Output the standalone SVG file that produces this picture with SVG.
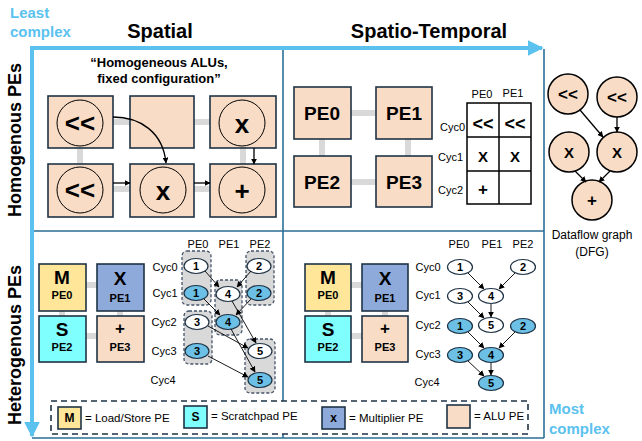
<svg xmlns="http://www.w3.org/2000/svg" width="642" height="441" viewBox="0 0 642 441">
<defs>
<style>
text{font-family:"Liberation Sans",Arial,sans-serif;fill:#000}
.b{font-weight:bold}
.lb{fill:#5bc2ef;font-weight:bold;font-size:15px}
.frame{stroke:#2b6e96;stroke-width:1.6;fill:none}
.tile{fill:#f8dcc6;stroke:#1e3345;stroke-width:1.6}
.gray{stroke:#d9d9d9;stroke-width:6;fill:none}
.circ{fill:none;stroke:#000;stroke-width:1}
.dfg{fill:#f8dcc6;stroke:#000;stroke-width:1.5}
.arr{stroke:#000;stroke-width:1.3;fill:none;marker-end:url(#ah)}
.arr2{stroke:#000;stroke-width:0.9;fill:none;marker-end:url(#ah2)}
.grp{fill:#d9d9d9;stroke:#44546a;stroke-width:1.3;stroke-dasharray:3 2}
.nw{fill:#fff;stroke:#1e3345;stroke-width:1.2}
.nb{fill:#6cc0e6;stroke:#1e3345;stroke-width:1.2}
.nl{font-size:11px;font-weight:bold;text-anchor:middle}
.hd{font-size:11px;text-anchor:middle}
.M{fill:#ffe699;stroke:#1e3345;stroke-width:1.6}
.X{fill:#8eaadb;stroke:#1e3345;stroke-width:1.6}
.S{fill:#80ffff;stroke:#1e3345;stroke-width:1.6}
.A{fill:#f8dcc6;stroke:#1e3345;stroke-width:1.6}
.cell{fill:none;stroke:#000;stroke-width:1.5}
</style>
<marker id="ah" viewBox="0 0 10 10" refX="9" refY="5" markerWidth="6" markerHeight="6" orient="auto" markerUnits="userSpaceOnUse"><path d="M0,0 L10,5 L0,10 z" fill="#000"/></marker>
<marker id="ah2" viewBox="0 0 10 10" refX="9" refY="5" markerWidth="6" markerHeight="6" orient="auto" markerUnits="userSpaceOnUse"><path d="M0,0 L10,5 L0,10 z" fill="#000"/></marker>
<marker id="big" viewBox="0 0 10 10" refX="9" refY="5" markerWidth="16" markerHeight="16" orient="auto" markerUnits="userSpaceOnUse"><path d="M0,0 L10,5 L0,10 z" fill="#5bc2ef"/></marker>
</defs>

<!-- frame -->
<g id="frame">
<line class="frame" x1="544" y1="49" x2="544" y2="438"/>
<line class="frame" x1="32" y1="438" x2="544" y2="438"/>
<line class="frame" x1="283" y1="49" x2="283" y2="438"/>
<line class="frame" x1="32" y1="231" x2="544" y2="231"/>
<line x1="30" y1="48" x2="542" y2="48" stroke="#5bc2ef" stroke-width="4" marker-end="url(#big)"/>
<line x1="32" y1="46" x2="32" y2="436" stroke="#5bc2ef" stroke-width="4" marker-end="url(#big)"/>
</g>

<g id="titles">
<text class="lb" x="10" y="18">Least</text>
<text class="lb" x="10" y="37">complex</text>
<text class="lb" x="549" y="414">Most</text>
<text class="lb" x="549" y="434">complex</text>
<text class="b" x="160" y="38" font-size="20" text-anchor="middle">Spatial</text>
<text class="b" x="429" y="38" font-size="20" text-anchor="middle">Spatio-Temporal</text>
<text class="b" font-size="18" text-anchor="middle" transform="translate(21,140) rotate(-90)">Homogenous PEs</text>
<text class="b" font-size="18" text-anchor="middle" transform="translate(21,345) rotate(-90)">Heterogenous PEs</text>
</g>

<!-- Top-left: spatial homogeneous -->
<g id="q1">
<text class="b" x="159" y="67" font-size="13" text-anchor="middle">“Homogeneous ALUs,</text>
<text class="b" x="159" y="83" font-size="13" text-anchor="middle">fixed configuration”</text>
<g id="q1-grid">
<line class="gray" x1="113" y1="122" x2="130" y2="122"/>
<line class="gray" x1="194" y1="122" x2="210" y2="122"/>
<line class="gray" x1="113" y1="189" x2="130" y2="189"/>
<line class="gray" x1="194" y1="189" x2="210" y2="189"/>
<line class="gray" x1="80" y1="148" x2="80" y2="164"/>
<line class="gray" x1="243" y1="148" x2="243" y2="164"/>
</g>
<g id="t1"><rect class="tile" x="48" y="96" width="65" height="52"/><circle class="circ" cx="80" cy="123" r="23"/><text class="b" x="80" y="132" font-size="26" text-anchor="middle">&lt;&lt;</text></g>
<g id="t2"><rect class="tile" x="130" y="96" width="64" height="52"/></g>
<g id="t3"><rect class="tile" x="210" y="96" width="66" height="52"/><circle class="circ" cx="242" cy="123" r="23"/><text class="b" x="242" y="133" font-size="26" text-anchor="middle">x</text></g>
<g id="t4"><rect class="tile" x="48" y="164" width="65" height="53"/><circle class="circ" cx="80" cy="190" r="23"/><text class="b" x="80" y="199" font-size="26" text-anchor="middle">&lt;&lt;</text></g>
<g id="t5"><rect class="tile" x="130" y="164" width="64" height="53"/><circle class="circ" cx="163" cy="190" r="23"/><text class="b" x="163" y="200" font-size="26" text-anchor="middle">x</text></g>
<g id="t6"><rect class="tile" x="210" y="164" width="66" height="53"/><circle class="circ" cx="242" cy="190" r="23"/><text class="b" x="242" y="200" font-size="26" text-anchor="middle">+</text></g>
<g id="q1-conn">
<path class="arr" d="M113 117 C140 117 163 132 166 163"/>
<line class="arr" x1="113" y1="183" x2="130" y2="183"/>
<line class="arr" x1="194" y1="183" x2="210" y2="183"/>
<line class="arr" x1="254" y1="148" x2="254" y2="164"/>
</g>
</g>

<!-- Top-right: spatio-temporal homogeneous -->
<g id="q2">
<g id="q2-grid">
<line class="gray" x1="351" y1="113" x2="376" y2="113"/>
<line class="gray" x1="351" y1="182" x2="376" y2="182"/>
<line class="gray" x1="322" y1="139" x2="322" y2="156"/>
<line class="gray" x1="408" y1="139" x2="408" y2="156"/>
</g>
<g id="pe0"><rect class="tile" x="294" y="87" width="57" height="52"/><text class="b" x="322" y="120" font-size="19" text-anchor="middle">PE0</text></g>
<g id="pe1"><rect class="tile" x="376" y="87" width="56" height="52"/><text class="b" x="404" y="120" font-size="19" text-anchor="middle">PE1</text></g>
<g id="pe2"><rect class="tile" x="294" y="156" width="57" height="51"/><text class="b" x="322" y="189" font-size="19" text-anchor="middle">PE2</text></g>
<g id="pe3"><rect class="tile" x="376" y="156" width="56" height="51"/><text class="b" x="404" y="189" font-size="19" text-anchor="middle">PE3</text></g>
<g id="table">
<text class="hd" x="482" y="98">PE0</text>
<text class="hd" x="513" y="97">PE1</text>
<rect class="cell" x="467" y="103" width="64" height="101"/>
<line class="cell" x1="499" y1="103" x2="499" y2="204"/>
<line class="cell" x1="467" y1="137" x2="531" y2="137"/>
<line class="cell" x1="467" y1="171" x2="531" y2="171"/>
<text x="465" y="131" font-size="11" text-anchor="end">Cyc0</text>
<text x="463" y="161" font-size="11" text-anchor="end">Cyc1</text>
<text x="463" y="194" font-size="11" text-anchor="end">Cyc2</text>
<text class="b" x="483" y="130" font-size="18" text-anchor="middle">&lt;&lt;</text>
<text class="b" x="515" y="130" font-size="18" text-anchor="middle">&lt;&lt;</text>
<text class="b" x="483" y="162" font-size="15" text-anchor="middle">X</text>
<text class="b" x="515" y="162" font-size="15" text-anchor="middle">X</text>
<text class="b" x="483" y="195" font-size="17" text-anchor="middle">+</text>
</g>
</g>

<!-- DFG right -->
<g id="dfg">
<g id="d1"><circle class="dfg" cx="568" cy="94" r="20"/><text class="b" x="568" y="100" font-size="17" text-anchor="middle">&lt;&lt;</text></g>
<g id="d2"><circle class="dfg" cx="617" cy="97" r="20"/><text class="b" x="617" y="103" font-size="17" text-anchor="middle">&lt;&lt;</text></g>
<g id="d3"><circle class="dfg" cx="569" cy="152" r="20"/><text class="b" x="569" y="158" font-size="15" text-anchor="middle">X</text></g>
<g id="d4"><circle class="dfg" cx="617" cy="152" r="20"/><text class="b" x="617" y="158" font-size="15" text-anchor="middle">X</text></g>
<g id="d5"><circle class="dfg" cx="592" cy="200" r="20"/><text class="b" x="592" y="206" font-size="17" text-anchor="middle">+</text></g>
<g id="dfg-conn">
<line class="arr" x1="580" y1="110" x2="603" y2="137"/>
<line class="arr" x1="617" y1="117" x2="617" y2="132"/>
<line class="arr" x1="575" y1="171" x2="586" y2="182"/>
<line class="arr" x1="610" y1="171" x2="599" y2="182"/>
</g>
<text x="592" y="239" font-size="12" text-anchor="middle">Dataflow graph</text>
<text x="592" y="256" font-size="12" text-anchor="middle">(DFG)</text>
</g>

<!-- Bottom-left -->
<g id="q3">
<g id="q3-grid">
<line class="gray" x1="86" y1="285" x2="97" y2="285"/>
<line class="gray" x1="86" y1="336" x2="97" y2="336"/>
<line class="gray" x1="62" y1="311" x2="62" y2="316"/>
<line class="gray" x1="120" y1="311" x2="120" y2="316"/>
</g>
<g id="bl-m"><rect class="M" x="39" y="264" width="47" height="47"/><text class="b" x="62" y="284" font-size="19" text-anchor="middle">M</text><text class="b" x="62" y="299" font-size="11" text-anchor="middle">PE0</text></g>
<g id="bl-x"><rect class="X" x="97" y="264" width="47" height="47"/><text class="b" x="120" y="285" font-size="19" text-anchor="middle">X</text><text class="b" x="120" y="302" font-size="11" text-anchor="middle">PE1</text></g>
<g id="bl-s"><rect class="S" x="39" y="316" width="47" height="46"/><text class="b" x="62" y="336" font-size="19" text-anchor="middle">S</text><text class="b" x="62" y="351" font-size="11" text-anchor="middle">PE2</text></g>
<g id="bl-a"><rect class="A" x="97" y="316" width="47" height="46"/><text class="b" x="120" y="334" font-size="17" text-anchor="middle">+</text><text class="b" x="120" y="351" font-size="11" text-anchor="middle">PE3</text></g>

<text class="hd" x="198" y="248">PE0</text>
<text class="hd" x="229" y="248">PE1</text>
<text class="hd" x="260" y="248">PE2</text>
<text class="hd" x="165" y="271">Cyc0</text>
<text class="hd" x="165" y="297">Cyc1</text>
<text class="hd" x="164" y="326">Cyc2</text>
<text class="hd" x="164" y="355">Cyc3</text>
<text class="hd" x="163" y="384">Cyc4</text>

<rect class="grp" x="182" y="251" width="29" height="54" rx="5"/>
<rect class="grp" x="246" y="251" width="28" height="54" rx="5"/>
<rect class="grp" x="215" y="280" width="27" height="55" rx="5"/>
<rect class="grp" x="184" y="311" width="28" height="53" rx="5"/>
<rect class="grp" x="245" y="339" width="30" height="54" rx="5"/>

<g id="bl-w1"><ellipse class="nw" cx="196" cy="266" rx="12" ry="7.5"/><text class="nl" x="196" y="270">1</text></g>
<g id="bl-b1"><ellipse class="nb" cx="196" cy="293" rx="12" ry="7.5"/><text class="nl" x="196" y="297">1</text></g>
<g id="bl-w2"><ellipse class="nw" cx="259" cy="266" rx="12" ry="7.5"/><text class="nl" x="259" y="270">2</text></g>
<g id="bl-b2"><ellipse class="nb" cx="259" cy="293" rx="12" ry="7.5"/><text class="nl" x="259" y="297">2</text></g>
<g id="bl-w4"><ellipse class="nw" cx="228" cy="294" rx="12" ry="7.5"/><text class="nl" x="228" y="298">4</text></g>
<g id="bl-b4"><ellipse class="nb" cx="228" cy="322" rx="12" ry="7.5"/><text class="nl" x="228" y="326">4</text></g>
<g id="bl-w3"><ellipse class="nw" cx="197" cy="322" rx="12" ry="7.5"/><text class="nl" x="197" y="326">3</text></g>
<g id="bl-b3"><ellipse class="nb" cx="197" cy="351" rx="12" ry="7.5"/><text class="nl" x="197" y="355">3</text></g>
<g id="bl-w5"><ellipse class="nw" cx="260" cy="351" rx="12" ry="7.5"/><text class="nl" x="260" y="355">5</text></g>
<g id="bl-b5"><ellipse class="nb" cx="260" cy="380" rx="12" ry="7.5"/><text class="nl" x="260" y="384">5</text></g>
<g id="bl-conn">
<line class="arr2" x1="205" y1="271" x2="219" y2="287"/>
<line class="arr2" x1="251" y1="271" x2="237" y2="287"/>
<line class="arr2" x1="204" y1="299" x2="220" y2="315"/>
<line class="arr2" x1="251" y1="299" x2="236" y2="315"/>
<line class="arr2" x1="232" y1="301" x2="256" y2="343"/>
<line class="arr2" x1="208" y1="326" x2="248" y2="348"/>
<line class="arr2" x1="231" y1="329" x2="255" y2="372"/>
<line class="arr2" x1="208" y1="356" x2="248" y2="377"/>
</g>
</g>

<!-- Bottom-right -->
<g id="q4">
<g id="q4-grid">
<line class="gray" x1="351" y1="285" x2="362" y2="285"/>
<line class="gray" x1="351" y1="336" x2="362" y2="336"/>
<line class="gray" x1="328" y1="311" x2="328" y2="316"/>
<line class="gray" x1="385" y1="311" x2="385" y2="316"/>
</g>
<g id="br-m"><rect class="M" x="305" y="264" width="46" height="47"/><text class="b" x="328" y="284" font-size="19" text-anchor="middle">M</text><text class="b" x="328" y="299" font-size="11" text-anchor="middle">PE0</text></g>
<g id="br-x"><rect class="X" x="362" y="264" width="46" height="47"/><text class="b" x="385" y="285" font-size="19" text-anchor="middle">X</text><text class="b" x="385" y="302" font-size="11" text-anchor="middle">PE1</text></g>
<g id="br-s"><rect class="S" x="305" y="316" width="46" height="46"/><text class="b" x="328" y="336" font-size="19" text-anchor="middle">S</text><text class="b" x="328" y="351" font-size="11" text-anchor="middle">PE2</text></g>
<g id="br-a"><rect class="A" x="362" y="316" width="46" height="46"/><text class="b" x="385" y="334" font-size="17" text-anchor="middle">+</text><text class="b" x="385" y="351" font-size="11" text-anchor="middle">PE3</text></g>

<text class="hd" x="459" y="248">PE0</text>
<text class="hd" x="492" y="248">PE1</text>
<text class="hd" x="523" y="248">PE2</text>
<text class="hd" x="428" y="271">Cyc0</text>
<text class="hd" x="428" y="299">Cyc1</text>
<text class="hd" x="428" y="329">Cyc2</text>
<text class="hd" x="428" y="358">Cyc3</text>
<text class="hd" x="427" y="386">Cyc4</text>

<g id="br-w1"><ellipse class="nw" cx="460" cy="267" rx="12.5" ry="7.5"/><text class="nl" x="460" y="271">1</text></g>
<g id="br-w2"><ellipse class="nw" cx="523" cy="267" rx="12.5" ry="7.5"/><text class="nl" x="523" y="271">2</text></g>
<g id="br-w3"><ellipse class="nw" cx="460" cy="296" rx="12.5" ry="7.5"/><text class="nl" x="460" y="300">3</text></g>
<g id="br-w4"><ellipse class="nw" cx="491" cy="296" rx="12.5" ry="7.5"/><text class="nl" x="491" y="300">4</text></g>
<g id="br-w5"><ellipse class="nw" cx="491" cy="325" rx="12.5" ry="7.5"/><text class="nl" x="491" y="329">5</text></g>
<g id="br-b1"><ellipse class="nb" cx="460" cy="326" rx="12.5" ry="7.5"/><text class="nl" x="460" y="330">1</text></g>
<g id="br-b2"><ellipse class="nb" cx="523" cy="326" rx="12.5" ry="7.5"/><text class="nl" x="523" y="330">2</text></g>
<g id="br-b3"><ellipse class="nb" cx="460" cy="355" rx="12.5" ry="7.5"/><text class="nl" x="460" y="359">3</text></g>
<g id="br-b4"><ellipse class="nb" cx="491" cy="355" rx="12.5" ry="7.5"/><text class="nl" x="491" y="359">4</text></g>
<g id="br-b5"><ellipse class="nb" cx="491" cy="383" rx="12.5" ry="7.5"/><text class="nl" x="491" y="387">5</text></g>
<g id="br-conn">
<line class="arr2" x1="468" y1="273" x2="484" y2="289"/>
<line class="arr2" x1="515" y1="273" x2="499" y2="289"/>
<line class="arr2" x1="468" y1="302" x2="484" y2="318"/>
<line class="arr2" x1="491" y1="304" x2="491" y2="317"/>
<line class="arr2" x1="468" y1="332" x2="484" y2="348"/>
<line class="arr2" x1="515" y1="332" x2="499" y2="348"/>
<line class="arr2" x1="468" y1="361" x2="484" y2="376"/>
<line class="arr2" x1="491" y1="363" x2="491" y2="375"/>
</g>
</g>

<!-- Legend -->
<g id="legend">
<rect x="51" y="401" width="477" height="33" fill="#fff" stroke="#1e3345" stroke-width="1.6" stroke-dasharray="6 4"/>
<rect class="M" x="58" y="407" width="23" height="22"/><text class="b" x="69.5" y="422" font-size="12" text-anchor="middle">M</text>
<text x="85" y="422" font-size="11.5">= Load/Store PE</text>
<rect class="S" x="184" y="406" width="23" height="22"/><text class="b" x="195.5" y="421" font-size="12" text-anchor="middle">S</text>
<text x="211" y="420" font-size="11.5">= Scratchpad PE</text>
<rect class="X" x="322" y="407" width="23" height="22"/><text class="b" x="333.5" y="422" font-size="12" text-anchor="middle">x</text>
<text x="349" y="422" font-size="11.5">= Multiplier PE</text>
<rect class="A" x="447" y="405" width="23" height="23"/>
<text x="474" y="420" font-size="11.5">= ALU PE</text>
</g>
</svg>
